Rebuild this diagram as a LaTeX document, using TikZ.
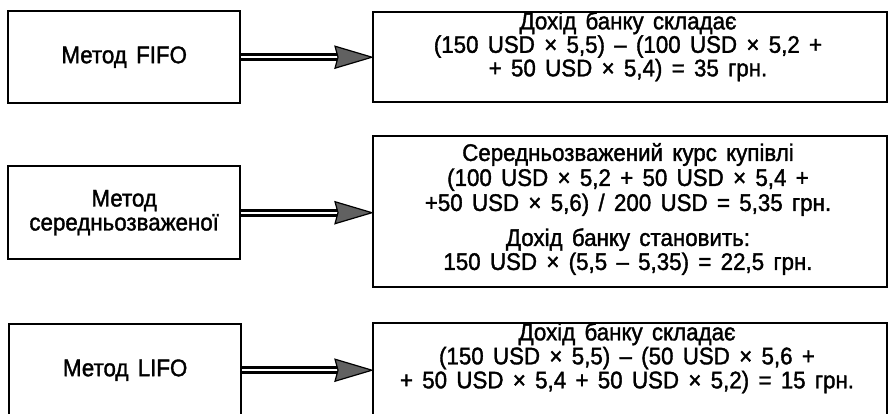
\documentclass[tikz,border=0pt]{standalone}
\usepackage{fontspec}
\setmainfont[FakeStretch=0.93, WordSpace=1.5, FakeBold=1.5]{Liberation Sans}
\begin{document}
\begin{tikzpicture}[x=1pt,y=-1pt,
  box/.style={draw=black, line width=2.4pt, inner sep=0pt, anchor=north west, align=center,
    font=\fontsize{24}{24}\selectfont},
  txt/.style={align=center, inner sep=0pt, font=\fontsize{24}{23.5}\selectfont},
  shaft/.style={draw=black, line width=2.8pt, double=white, double distance=2.4pt},
  head/.style={draw=black, line width=1.2pt, fill=black!62, line join=miter}
]
\useasboundingbox (0,0) rectangle (889,413);
\clip (0,0) rectangle (889,413);

% left column: the three methods
\node[box, minimum width=232pt, minimum height=92pt] (L1) at (7,10) {Метод FIFO};
\node[box, minimum width=232pt, minimum height=93pt] (L2) at (7,165) {Метод\\середньозваженої};
\node[box, minimum width=232pt, minimum height=92pt] (L3) at (8,323) {Метод LIFO};

% right column: the calculations
\node[box, minimum width=514pt, minimum height=90pt]  (R1) at (372,11) {};
\node[box, minimum width=514pt, minimum height=151pt] (R2) at (372,135) {};
\node[box, minimum width=514pt, minimum height=94pt]  (R3) at (372,322) {};

\node[txt] (T1) at (628,46.5) {Дохід банку складає\\(150 USD × 5,5) – (100 USD × 5,2 +\\+ 50 USD × 5,4) = 35 грн.};
\node[txt, font=\fontsize{24}{25}\selectfont] (T2) at (628,209) {Середньозважений курс купівлі\\(100 USD × 5,2 + 50 USD × 5,4 +\\+50 USD × 5,6) / 200 USD = 5,35 грн.\\[10pt]Дохід банку становить:\\[-1pt]150 USD × (5,5 – 5,35) = 22,5 грн.};
\node[txt, font=\fontsize{24}{24}\selectfont] (T3) at (627,358) {Дохід банку складає\\(150 USD × 5,5) – (50 USD × 5,6 +\\+ 50 USD × 5,4 + 50 USD × 5,2) = 15 грн.};

% double-line arrows with shaded heads
\foreach \a/\b in {L1/R1, L2/R2, L3/R3}{
  \draw[shaft] (\a.east) -- ([xshift=-34pt]\a.east -| \b.west);
  \draw[head] (\a.east -| \b.west) -- ++(-37,-11) -- ++(3,11) -- ++(-3,11) -- cycle;
}
\end{tikzpicture}
\end{document}
